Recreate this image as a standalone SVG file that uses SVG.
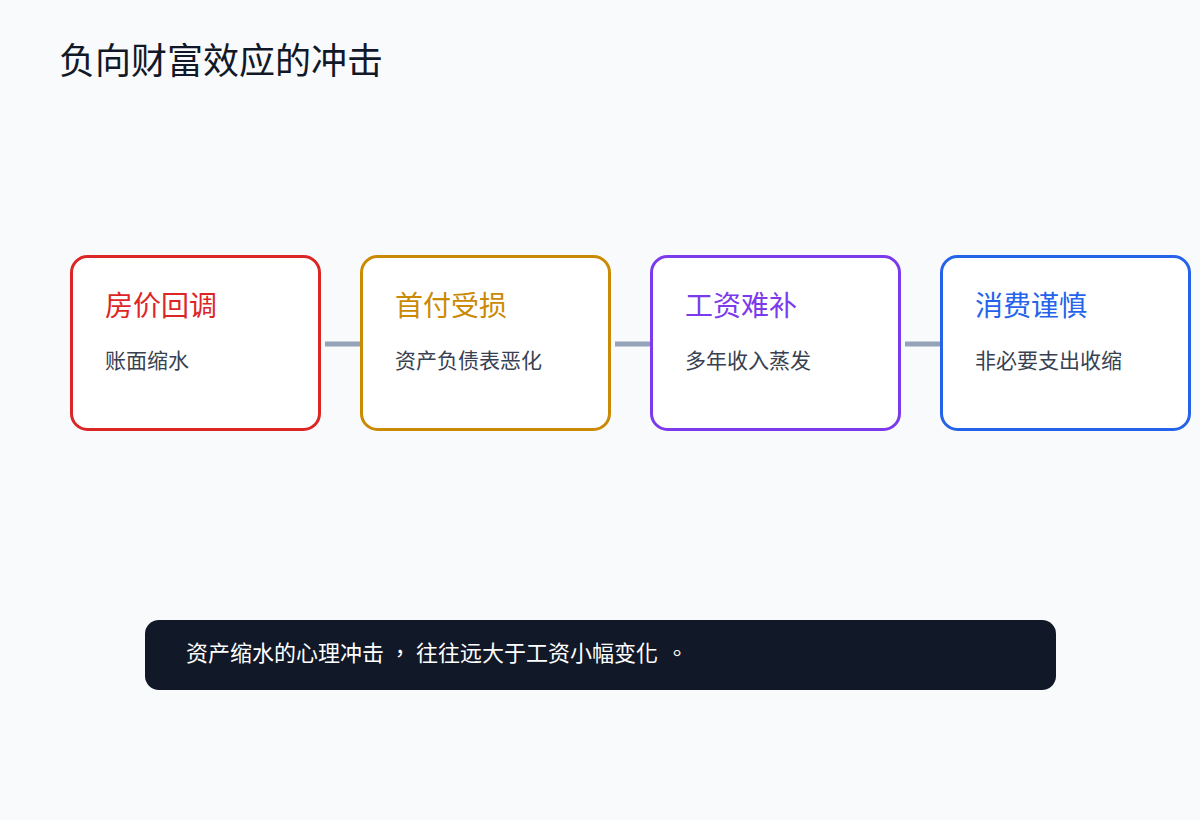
<svg xmlns="http://www.w3.org/2000/svg" width="1200" height="820" viewBox="0 0 1200 820">
<style>
text{font-family:"Noto Sans CJK SC","Noto Sans",sans-serif}
.title{font-size:36px;fill:#111827}
.card{fill:#ffffff;stroke-width:3}
.h{font-size:28px}
.sub{font-size:21px;fill:#374151}
.conn{stroke:#94a3b8;stroke-width:5}
.note{font-family:"Noto Sans CJK TC","Noto Sans CJK SC",sans-serif;font-size:22px;fill:#ffffff}
</style>
<rect width="1200" height="820" fill="#f8fafc"/>
<text class="title" x="59" y="74">负向财富效应的冲击</text>
<g id="connectors">
<line class="conn" x1="325" y1="344" x2="361" y2="344"/>
<line class="conn" x1="615" y1="344" x2="651" y2="344"/>
<line class="conn" x1="905" y1="344" x2="941" y2="344"/>
</g>
<g id="node1">
<rect class="card" x="71.5" y="256.5" width="248" height="173" rx="16" stroke="#dc2626"/>
<text class="h" x="105" y="316" fill="#dc2626">房价回调</text>
<text class="sub" x="105" y="368">账面缩水</text>
</g>
<g id="node2">
<rect class="card" x="361.5" y="256.5" width="248" height="173" rx="16" stroke="#ca8a04"/>
<text class="h" x="395" y="316" fill="#ca8a04">首付受损</text>
<text class="sub" x="395" y="368">资产负债表恶化</text>
</g>
<g id="node3">
<rect class="card" x="651.5" y="256.5" width="248" height="173" rx="16" stroke="#7c3aed"/>
<text class="h" x="685" y="316" fill="#7c3aed">工资难补</text>
<text class="sub" x="685" y="368">多年收入蒸发</text>
</g>
<g id="node4">
<rect class="card" x="941.5" y="256.5" width="248" height="173" rx="16" stroke="#2563eb"/>
<text class="h" x="975" y="316" fill="#2563eb">消费谨慎</text>
<text class="sub" x="975" y="368">非必要支出收缩</text>
</g>
<g id="banner">
<rect x="145" y="620" width="911" height="70" rx="14" fill="#111827"/>
<text class="note" x="186" y="661">资产缩水的心理冲击<tspan x="389">，</tspan><tspan x="416">往往远大于工资小幅变化</tspan><tspan x="666">。</tspan></text>
</g>
</svg>
